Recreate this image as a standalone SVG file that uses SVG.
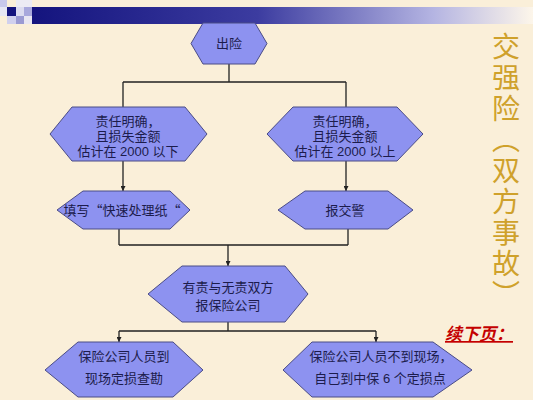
<svg xmlns="http://www.w3.org/2000/svg" width="533" height="400" viewBox="0 0 533 400">
<defs>
<linearGradient id="bar" x1="0" y1="0" x2="1" y2="0">
<stop offset="0" stop-color="#14147e"/>
<stop offset="0.45" stop-color="#3c3ca0"/>
<stop offset="0.8" stop-color="#b4b4e2"/>
<stop offset="1" stop-color="#fdf6ea"/>
</linearGradient>
<marker id="ah" viewBox="0 0 8 8" refX="8" refY="4" markerWidth="5" markerHeight="5" orient="auto" markerUnits="userSpaceOnUse">
<path d="M0,0 L8,4 L0,8 Z" fill="#222"/>
</marker>
<style>
.hex{fill:#8d92f0;stroke:#4a4c86;stroke-width:1}
.t{font-family:"Liberation Sans","Noto Sans CJK SC",sans-serif;font-size:13px;fill:#1c1c4c;text-anchor:middle}
.c{fill:none;stroke:#222;stroke-width:1.3}
.ca{fill:none;stroke:#222;stroke-width:1.3;marker-end:url(#ah)}
</style>
</defs>
<rect width="533" height="400" fill="#faefd9"/>
<!-- header decoration -->
<g id="header">
<rect x="32" y="7" width="501" height="17" fill="url(#bar)"/>
<rect x="0" y="0" width="7" height="7" fill="#c8c8ec"/>
<rect x="16" y="0" width="16" height="7" fill="#ecebf4"/>
<rect x="7" y="7" width="9" height="9" fill="#14147e"/>
<rect x="0" y="7" width="7" height="9" fill="#e6e6f4"/>
<rect x="16" y="7" width="8" height="9" fill="#dcdcf0"/>
<rect x="24" y="7" width="8" height="9" fill="#a8a8dc"/>
<rect x="7" y="16" width="9" height="8" fill="#d0d0ee"/>
<rect x="16" y="16" width="8" height="8" fill="#9a9ad2"/>
<rect x="24" y="16" width="8" height="8" fill="#e8e6f2"/>
</g>
<g id="connectors">
<path class="c" d="M229,64 V82 M123,82 H346 M123,82 V107 M346,82 V107"/>
<path class="ca" d="M123,161 V191"/>
<path class="ca" d="M346,161 V191"/>
<path class="c" d="M119,229 V245 M348,229 V245 M119,245 H348"/>
<path class="ca" d="M228,245 V266"/>
<path class="c" d="M228,322 V331 M119,331 H376"/>
<path class="ca" d="M119,331 V342"/>
<path class="ca" d="M376,331 V342"/>
</g>
<g id="n1">
<polygon class="hex" points="191,43.5 203,23 255,23 267,43.5 255,64 203,64"/>
<text class="t" x="229" y="48">出险</text>
</g>
<g id="n2">
<polygon class="hex" points="50,134 72,107 185,107 207,134 185,161 72,161"/>
<text class="t" x="128" y="126">责任明确，</text>
<text class="t" x="128" y="141">且损失金额</text>
<text class="t" x="128" y="156">估计在 2000 以下</text>
</g>
<g id="n3">
<polygon class="hex" points="267,134 293,107 397,107 423,134 397,161 293,161"/>
<text class="t" x="345" y="126">责任明确，</text>
<text class="t" x="345" y="141">且损失金额</text>
<text class="t" x="345" y="156">估计在 2000 以上</text>
</g>
<g id="n4">
<polygon class="hex" points="57,210 83,191 170,191 190,210 170,229 83,229"/>
<text class="t" x="122" y="215" style="font-family:'Noto Sans CJK SC',sans-serif">填写“快速处理纸“</text>
</g>
<g id="n5">
<polygon class="hex" points="278,210 305,191 388,191 413,210 388,229 305,229"/>
<text class="t" x="345" y="215">报交警</text>
</g>
<g id="n6">
<polygon class="hex" points="148,294 182,266 285,266 308,294 285,322 182,322"/>
<text class="t" x="228" y="292">有责与无责双方</text>
<text class="t" x="228" y="310">报保险公司</text>
</g>
<g id="n7">
<polygon class="hex" points="45,370 78,342 173,342 203,370 173,397 78,397"/>
<text class="t" x="124" y="361">保险公司人员到</text>
<text class="t" x="124" y="383">现场定损查勘</text>
</g>
<g id="n8">
<polygon class="hex" points="283,370 312,342 433,342 472,370 433,397 312,397"/>
<text class="t" x="381" y="361">保险公司人员不到现场，</text>
<text class="t" x="380" y="383">自己到中保 6 个定损点</text>
</g>
<g id="title">
<text x="506" y="32" style="writing-mode:vertical-rl;font-family:'Noto Sans CJK SC',sans-serif;font-size:28px;letter-spacing:3px;fill:#cfa12b">交强险（双方事故）</text>
</g>
<g id="next">
<text x="445" y="340" style="font-family:'Liberation Sans','Noto Sans CJK SC',sans-serif;font-size:17px;font-weight:bold;font-style:italic;fill:#c40000;text-decoration:underline">续下页：</text>
</g>
</svg>
